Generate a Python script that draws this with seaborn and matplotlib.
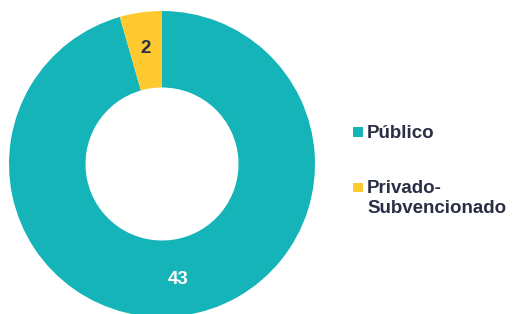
import matplotlib
matplotlib.use("Agg")
import matplotlib.pyplot as plt
import seaborn as sns
from matplotlib.patches import Rectangle

sns.set_theme(style="white")
plt.rcParams['font.family'] = ['Liberation Sans', 'DejaVu Sans']

# datos
categorias = ['Público', 'Privado-\nSubvencionado']
valores = [43, 2]
colores = sns.color_palette(['#14B4B8', '#FFC930'])
color_texto = '#2B2F45'
total = sum(valores)

W, H = 513, 314
fig = plt.figure(figsize=(W / 100, H / 100), dpi=100)
# centro ~ (162, 164) px, radio ~153 px
ax = fig.add_axes([9 / W, (H - 164 - 153) / H, 306 / W, 306 / H])

wedges, _, numeros = ax.pie(valores, colors=colores, startangle=90, counterclock=False,
                            radius=1.0, autopct=lambda p: f'{round(p * total / 100):d}',
                            pctdistance=0.76,
                            wedgeprops=dict(width=0.5, edgecolor='none'),
                            textprops=dict(fontsize=13.5, fontweight='bold'))
numeros[0].set_color('white')
numeros[1].set_color(color_texto)
ax.set_xlim(-1, 1)
ax.set_ylim(-1, 1)
ax.set_aspect('equal')

# leyenda a mano: cuadrado alineado con la primera linea de cada etiqueta
y_base = [138, 193]  # linea base de la primera linea (px desde arriba)
for cat, col, yb in zip(categorias, colores, y_base):
    fig.add_artist(Rectangle((353 / W, (H - yb + 1) / H), 9.5 / W, 9.5 / H,
                             transform=fig.transFigure, facecolor=col, edgecolor='none'))
    for i, linea in enumerate(cat.split('\n')):
        fig.text(367 / W, (H - yb - 20 * i) / H, linea, ha='left', va='baseline',
                 fontsize=13.5, fontweight='bold', color=color_texto)

fig.savefig('out.png', dpi=100, facecolor='white')
